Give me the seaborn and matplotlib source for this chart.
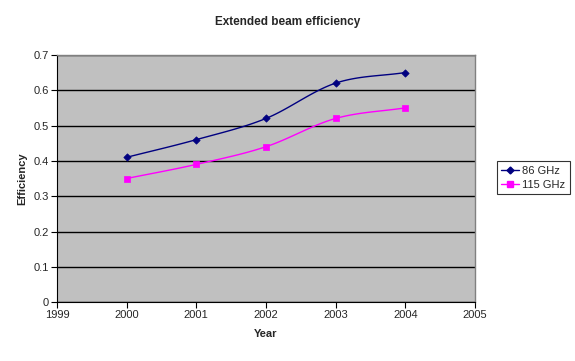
import numpy as np
import pandas as pd
import matplotlib
matplotlib.use("Agg")
import matplotlib.pyplot as plt
import seaborn as sns

# Data
years = [2000, 2001, 2002, 2003, 2004]
eff_86 = [0.41, 0.46, 0.52, 0.62, 0.65]
eff_115 = [0.35, 0.39, 0.44, 0.52, 0.55]
series_names = ["86 GHz", "115 GHz"]
series_colors = ["#000080", "#FF00FF"]
series_markers = ["D", "s"]


def smooth_curve(x, y, n=30):
    # Excel-style smoothed line: Catmull-Rom through the points
    x = np.asarray(x, float)
    y = np.asarray(y, float)
    px = np.concatenate([[2 * x[0] - x[1]], x, [2 * x[-1] - x[-2]]])
    py = np.concatenate([[2 * y[0] - y[1]], y, [2 * y[-1] - y[-2]]])
    xs, ys = [], []
    t = np.linspace(0, 1, n)
    for i in range(1, len(px) - 2):
        for arr, out in ((px, xs), (py, ys)):
            p0, p1, p2, p3 = arr[i - 1], arr[i], arr[i + 1], arr[i + 2]
            out.extend(0.5 * ((2 * p1) + (-p0 + p2) * t
                              + (2 * p0 - 5 * p1 + 4 * p2 - p3) * t ** 2
                              + (-p0 + 3 * p1 - 3 * p2 + p3) * t ** 3))
    return np.array(xs), np.array(ys)


df = pd.DataFrame({
    "Year": years * 2,
    "Efficiency": eff_86 + eff_115,
    "Series": [series_names[0]] * len(years) + [series_names[1]] * len(years),
})

sns.set_style("white")
plt.rcParams["font.family"] = ["Liberation Sans", "DejaVu Sans"]

fig = plt.figure(figsize=(5.75, 3.61), dpi=100)
ax = fig.add_axes([0.099, 0.163, 0.727, 0.685])
ax.set_facecolor("#C0C0C0")

handles = []
for name, col, mk in zip(series_names, series_colors, series_markers):
    sub = df[df["Series"] == name]
    sx, sy = smooth_curve(sub["Year"], sub["Efficiency"])
    ax.plot(sx, sy, color=col, lw=1.0, zorder=3)
    sns.scatterplot(data=sub, x="Year", y="Efficiency", ax=ax, color=col,
                    marker=mk, s=14 if mk == "D" else 22, edgecolor=col,
                    linewidth=0.5, zorder=4, legend=False)
    handles.append(plt.Line2D([], [], color=col, lw=1.0, marker=mk,
                              markersize=3.5 if mk == "D" else 5,
                              markeredgecolor=col, label=name))

ax.set_xlim(1999, 2005)
ax.set_ylim(0, 0.7)
ax.set_xticks(range(1999, 2006))
ax.set_yticks(np.arange(0, 0.71, 0.1))
ax.set_yticklabels(["0", "0.1", "0.2", "0.3", "0.4", "0.5", "0.6", "0.7"])
ax.yaxis.grid(True, color="black", lw=1.0)
ax.set_axisbelow(True)
ax.tick_params(axis="both", direction="out", length=4, width=0.8,
               color="black", labelsize=8, pad=2, left=True, bottom=True)

for s in ["left", "bottom"]:
    ax.spines[s].set_color("black")
    ax.spines[s].set_linewidth(0.8)
for s in ["top", "right"]:
    ax.spines[s].set_visible(True)
    ax.spines[s].set_color("#808080")
    ax.spines[s].set_linewidth(1.0)

ax.set_xlabel("Year", fontsize=8, fontweight="bold", labelpad=6)
ax.set_ylabel("Efficiency", fontsize=8, fontweight="bold", labelpad=4)
fig.suptitle("Extended beam efficiency", x=0.5, y=0.955, fontsize=8.5,
             fontweight="bold")

leg = fig.legend(handles=handles, loc="upper left",
                 bbox_to_anchor=(0.864, 0.553), fontsize=8, frameon=True,
                 fancybox=False, handlelength=1.6, handletextpad=0.3,
                 borderpad=0.4, labelspacing=0.35, borderaxespad=0)
leg.get_frame().set_edgecolor("black")
leg.get_frame().set_linewidth(0.8)

fig.savefig("out.png", dpi=100)
